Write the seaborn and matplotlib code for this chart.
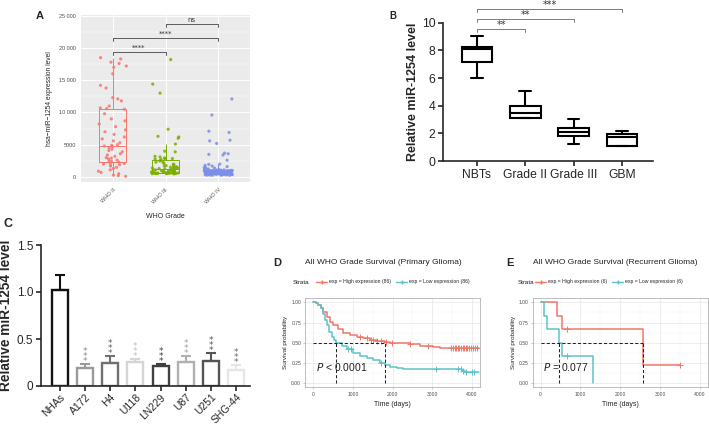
import numpy as np
import pandas as pd
import seaborn as sns
import matplotlib.pyplot as plt
from matplotlib.lines import Line2D
from matplotlib.ticker import MultipleLocator

sns.set_style("white")
plt.rcParams['font.family'] = ['Liberation Sans', 'DejaVu Sans']

W, H = 709, 428

# -------------------------------
# Panel A: hsa-miR-1254 expression by WHO grade
# -------------------------------
grade_labels = ["WHO II", "WHO III", "WHO IV"]
grade_colors = ["#F8766D", "#7CAE00", "#7B8FE6"]
who_ii = [18500, 18300, 17800, 17600, 17200, 17000, 16000, 14200, 13800, 12300,
          12100, 11800, 11000, 10700, 10600, 10500, 9800, 9000, 8700, 8200,
          7800, 7300, 7000, 6600, 6200, 5900, 5600, 5300, 5000, 4900,
          4800, 4700, 4500, 4300, 4100, 3900, 3600, 3400, 3200, 3000,
          2900, 2800, 2600, 2500, 2400, 2300, 2200, 2100, 2000, 1900,
          1800, 1700, 1500, 1300, 1100, 900, 700, 500, 300, 200, 100]
who_iii = [18200, 14400, 13000, 7400, 6300, 6200, 6000, 5100, 4000, 3900,
           3200, 3100, 2950, 2850, 2800, 2760, 2700, 2550, 2480, 2300,
           2250, 2100, 1980, 1900, 1750, 1700, 1620, 1580, 1500, 1470,
           1420, 1390, 1350, 1310, 1260, 1200, 1170, 1100, 1060, 1010,
           980, 940, 910, 880, 850, 830, 790, 760, 730, 700,
           680, 660, 650, 640, 630, 615, 600, 590, 580, 570,
           555, 540, 530, 520, 510, 500, 480]
who_iv = [12100, 9600, 7100, 6900, 5700, 5600, 5200, 3700, 3600, 3500,
          3400, 2600, 2000, 1950, 1800, 1700, 1600, 1500, 1450, 1400,
          1300, 1250, 1200, 1150, 1100, 1090, 1070, 1050, 1040, 1020,
          1000, 990, 980, 960, 950, 940, 920, 910, 900, 890,
          880, 860, 850, 840, 830, 820, 810, 805, 800, 795,
          790, 780, 770, 760, 750, 740, 730, 720, 700, 690,
          680, 660, 650, 640, 620, 610, 600, 580, 560, 550,
          540, 520, 510, 500, 490, 480, 470, 460, 450, 440,
          430, 420, 410, 400, 390, 380, 370, 360, 350, 340,
          330, 320, 310, 300, 290, 280, 260]
a_yticks = [0, 5000, 10000, 15000, 20000, 25000]
a_yticklabels = ["0", "5000", "10 000", "15 000", "20 000", "25 000"]
a_brackets = [(0, 1, 19400, "****"), (0, 2, 21470, "****"), (1, 2, 23680, "ns")]

# -------------------------------
# Panel B: tissue qPCR boxplots (min, q1, median, q3, max)
# -------------------------------
b_groups = ["NBTs", "Grade II", "Grade III", "GBM"]
b_nbts = [6.02, 7.13, 8.08, 8.26, 9.06]
b_grade2 = [3.09, 3.09, 3.45, 3.98, 5.06]
b_grade3 = [1.21, 1.83, 2.12, 2.39, 3.04]
b_gbm = [1.08, 1.08, 1.76, 1.95, 2.15]
b_brackets = [(0, 1, 9.54, "**"), (0, 2, 10.27, "**"), (0, 3, 10.97, "***")]

# -------------------------------
# Panel C: cell lines
# -------------------------------
c_cells = ["NHAs", "A172", "H4", "U118", "LN229", "U87", "U251", "SHG-44"]
c_mean = [1.02, 0.19, 0.25, 0.26, 0.21, 0.26, 0.27, 0.17]
c_err = [0.16, 0.04, 0.07, 0.03, 0.02, 0.06, 0.08, 0.05]
c_edge = ["#111111", "#9a9a9a", "#707070", "#d5d5d5", "#404040", "#b0b0b0", "#555555", "#e6e6e6"]
c_star = ["#111111", "#8a8a8a", "#606060", "#c0c0c0", "#404040", "#a0a0a0", "#555555", "#6a6a6a"]

# -------------------------------
# Panel D: KM, primary glioma
# -------------------------------
d_high_t = [0, 60, 126, 186, 253, 337, 421, 505, 631, 758, 926, 1095, 1263, 1431,
            1600, 1810, 1936, 2189, 2442, 2694, 3030, 3199, 4180]
d_high_s = [1.0, 0.99, 0.97, 0.925, 0.884, 0.82, 0.76, 0.72, 0.667, 0.625, 0.596, 0.576,
            0.555, 0.535, 0.527, 0.514, 0.50, 0.494, 0.481, 0.465, 0.453, 0.441, 0.441]
d_low_t = [0, 60, 126, 186, 236, 295, 337, 404, 463, 530, 575, 715, 842, 1010, 1179,
           1347, 1516, 1684, 1810, 1936, 2105, 2273, 3600, 3760, 3830, 3957, 4180]
d_low_s = [1.0, 0.99, 0.965, 0.925, 0.855, 0.78, 0.72, 0.637, 0.576, 0.535, 0.495, 0.46,
           0.42, 0.37, 0.337, 0.313, 0.288, 0.255, 0.226, 0.205, 0.193, 0.181, 0.173,
           0.152, 0.144, 0.135, 0.135]
d_high_cens = [1180, 1350, 1450, 1520, 1600, 1700, 1830, 1990, 2450, 2900, 3480, 3530,
               3570, 3610, 3650, 3690, 3730, 3770, 3810, 3850, 3890, 3930, 3980, 4030, 4080, 4130]
d_low_cens = [880, 940, 1720, 3100, 3650, 3720, 3790, 3850, 4000, 4050]
d_medians = [575, 1810]

# -------------------------------
# Panel E: KM, recurrent glioma
# -------------------------------
e_high_t = [0, 416, 545, 2560, 2575, 3490]
e_high_s = [1.0, 0.833, 0.667, 0.444, 0.222, 0.222]
e_low_t = [0, 83, 150, 460, 540, 1310]
e_low_s = [1.0, 0.833, 0.667, 0.5, 0.333, 0.0]
e_high_cens = [668, 3490]
e_low_cens = [654]
e_medians = [460, 2560]

km_red = "#F0776A"
km_cyan = "#5EC3C9"
STAR_FONT = ['DejaVu Sans']

fig = plt.figure(figsize=(W / 100, H / 100), dpi=100)


def box(x0, y0, x1, y1):
    return [x0 / W, 1 - y1 / H, (x1 - x0) / W, (y1 - y0) / H]


def panel_label(x, y, s, size=8):
    fig.text(x / W, 1 - y / H, s, fontsize=size, fontweight='bold', ha='center', va='center')


# ---- A
axA = fig.add_axes(box(81, 15, 250, 182))
axA.set_facecolor('#EBEBEB')
dfA = pd.DataFrame({
    'grade': [grade_labels[0]] * len(who_ii) + [grade_labels[1]] * len(who_iii) + [grade_labels[2]] * len(who_iv),
    'value': who_ii + who_iii + who_iv,
})
sns.boxplot(data=dfA, x='grade', y='value', hue='grade', palette=grade_colors, fill=False,
            width=0.52, showfliers=False, linewidth=0.7, capwidths=0, legend=False, ax=axA)
np.random.seed(7)
sns.stripplot(data=dfA, x='grade', y='value', hue='grade', palette=grade_colors, jitter=0.27,
              size=2.3, alpha=0.85, linewidth=0, legend=False, ax=axA)
axA.set_xlim(-0.6, 2.6)
axA.set_ylim(-780, 25110)
axA.set_yticks(a_yticks, a_yticklabels)
axA.yaxis.set_minor_locator(MultipleLocator(2500))
axA.set_axisbelow(True)
axA.grid(which='major', color='white', lw=0.7)
axA.grid(which='minor', axis='y', color='white', lw=0.35)
for s in axA.spines.values():
    s.set_visible(False)
axA.tick_params(axis='both', which='major', length=2, width=0.5, color='#333333',
                labelsize=4, labelcolor='#4D4D4D', pad=1.5)
axA.tick_params(axis='y', which='minor', length=0)
plt.setp(axA.get_xticklabels(), rotation=45, ha='right', rotation_mode='anchor')
axA.set_xlabel('WHO Grade', fontsize=5, labelpad=6)
axA.set_ylabel('hsa\u2212miR\u22121254 expression level', fontsize=4.8, labelpad=4)
for a, b, yv, txt in a_brackets:
    axA.plot([a, a, b, b], [yv - 450, yv, yv, yv - 450], color='#444444', lw=0.6)
    axA.text((a + b) / 2, yv + 200, txt, ha='center', va='bottom', fontsize=5,
             color='#333333', family=STAR_FONT)

# ---- B
axB = fig.add_axes(box(443, 22.7, 653, 161))
dfB = pd.DataFrame({
    'group': [g for g in b_groups for _ in range(5)],
    'level': b_nbts + b_grade2 + b_grade3 + b_gbm,
})
sns.boxplot(data=dfB, x='group', y='level', color='white', linecolor='black', linewidth=1.5,
            width=0.63, whis=(0, 100), capwidths=0.24, ax=axB)
axB.set_xlim(-0.7, 3.64)
axB.set_ylim(0, 10)
axB.set_yticks([0, 2, 4, 6, 8, 10])
sns.despine(ax=axB)
for s in ['left', 'bottom']:
    axB.spines[s].set_linewidth(1.2)
axB.tick_params(axis='both', length=3.5, width=1.2, labelsize=8.7, pad=2, direction='out',
                left=True, bottom=True)
axB.set_xlabel('')
axB.set_ylabel('Relative miR-1254 level', fontsize=9, fontweight='bold', labelpad=2)
for a, b, yv, txt in b_brackets:
    axB.plot([a, a, b, b], [yv - 0.22, yv, yv, yv - 0.22], color='#666666', lw=0.6, clip_on=False)
    axB.text((a + b) / 2, yv - 0.05, txt, ha='center', va='bottom', fontsize=7,
             color='#333333', clip_on=False, family=STAR_FONT)

# ---- C
axC = fig.add_axes(box(41, 245, 250, 386))
dfC = pd.DataFrame({'cell': c_cells, 'level': c_mean})
sns.barplot(data=dfC, x='cell', y='level', hue='cell', palette=c_edge, fill=False,
            linewidth=1.7, width=0.64, errorbar=None, legend=False, ax=axC)
for i, (m, e, col, scol) in enumerate(zip(c_mean, c_err, c_edge, c_star)):
    axC.errorbar(i, m, yerr=[[0], [e]], fmt='none', ecolor=col, elinewidth=1.5,
                 capsize=3.5, capthick=1.5)
    if i > 0:
        axC.text(i, m + e - 0.02, '*\n*\n*', ha='center', va='bottom', fontsize=6.5,
                 linespacing=0.42, color=scol, family=STAR_FONT)
axC.set_xlim(-0.75, 7.55)
axC.set_ylim(0, 1.5)
axC.set_yticks([0, 0.5, 1.0, 1.5], ['0', '0.5', '1.0', '1.5'])
sns.despine(ax=axC)
for s in ['left', 'bottom']:
    axC.spines[s].set_linewidth(1.2)
axC.tick_params(axis='y', length=3.5, width=1.2, labelsize=8.5, pad=2, left=True)
axC.tick_params(axis='x', length=3.5, width=1.2, labelsize=7.5, pad=1, bottom=True)
plt.setp(axC.get_xticklabels(), rotation=45, ha='right', rotation_mode='anchor')
axC.set_xlabel('')
axC.set_ylabel('Relative miR-1254 level', fontsize=9.8, fontweight='bold', labelpad=3)


# ---- D and E: Kaplan-Meier panels
def step_at(ts, ss, t):
    idx = np.searchsorted(ts, t, side='right') - 1
    return list(np.asarray(ss)[idx])


def km_panel(ax, hi_t, hi_s, lo_t, lo_s, hi_c, lo_c, medians, ptext):
    df = pd.DataFrame({
        'time': hi_t + lo_t,
        'surv': hi_s + lo_s,
        'strata': ['High'] * len(hi_t) + ['Low'] * len(lo_t),
    })
    sns.lineplot(data=df, x='time', y='surv', hue='strata', palette=[km_red, km_cyan],
                 drawstyle='steps-post', estimator=None, linewidth=1.1, legend=False, ax=ax)
    sns.scatterplot(x=hi_c, y=step_at(hi_t, hi_s, hi_c), marker='+', color=km_red,
                    s=14, linewidth=0.7, ax=ax)
    sns.scatterplot(x=lo_c, y=step_at(lo_t, lo_s, lo_c), marker='+', color=km_cyan,
                    s=14, linewidth=0.7, ax=ax)
    ax.plot([0, max(medians)], [0.5, 0.5], ls='--', color='#222222', lw=0.75, dashes=(3, 2))
    for m in medians:
        ax.plot([m, m], [0, 0.5], ls='--', color='#222222', lw=0.75, dashes=(3, 2))
    ax.text(60, 0.2, ptext, fontsize=7.5, va='center', ha='left', color='#222222')
    ax.set_xlim(-200, 4200)
    ax.set_ylim(-0.05, 1.05)
    ax.set_xticks([0, 1000, 2000, 3000, 4000])
    ax.set_yticks([0, 0.25, 0.5, 0.75, 1.0], ['0.00', '0.25', '0.50', '0.75', '1.00'])
    ax.xaxis.set_minor_locator(MultipleLocator(500))
    ax.yaxis.set_minor_locator(MultipleLocator(0.125))
    ax.set_axisbelow(True)
    ax.grid(which='major', color='#E6E6E6', lw=0.5)
    ax.grid(which='minor', color='#F3F3F3', lw=0.35)
    for s in ax.spines.values():
        s.set_color('#B3B3B3')
        s.set_linewidth(0.6)
    ax.tick_params(axis='both', which='major', length=1.5, width=0.5, color='#B3B3B3',
                   labelsize=3.6, labelcolor='#4D4D4D', pad=1.5, left=True, bottom=True)
    ax.tick_params(which='minor', length=0)
    ax.set_xlabel('Time (days)', fontsize=5, labelpad=3)
    ax.set_ylabel('Survival probability', fontsize=4.6, labelpad=2)


def km_header(x_title, x_strata, x_legend, title, n_hi, n_lo):
    fig.text(x_title / W, 1 - 263 / H, title, fontsize=6, ha='left', va='center', color='#222222')
    fig.text(x_strata / W, 1 - 282 / H, 'Strata', fontsize=4.5, ha='left', va='center', color='#222222')
    handles = [Line2D([], [], color=km_red, lw=1, marker='+', markersize=3),
               Line2D([], [], color=km_cyan, lw=1, marker='+', markersize=3)]
    labels = [f'exp = High expression ({n_hi})', f'exp = Low expression ({n_lo})']
    fig.legend(handles, labels, loc='center left', bbox_to_anchor=(x_legend / W, 1 - 282 / H),
               ncol=2, frameon=False, fontsize=3.7, handlelength=2.2, handletextpad=0.4,
               columnspacing=0.9, borderpad=0, borderaxespad=0)


axD = fig.add_axes(box(305.4, 298.2, 479.6, 387.4))
km_panel(axD, d_high_t, d_high_s, d_low_t, d_low_s, d_high_cens, d_low_cens, d_medians,
         r'$P$ < 0.0001')
km_header(305, 293, 316, 'All WHO Grade Survival (Primary Glioma)', 86, 86)

axE = fig.add_axes(box(532.7, 298.2, 707.9, 387.4))
km_panel(axE, e_high_t, e_high_s, e_low_t, e_low_s, e_high_cens, e_low_cens, e_medians,
         r'$P$ = 0.077')
km_header(533, 518, 535, 'All WHO Grade Survival (Recurrent Glioma)', 6, 6)

panel_label(40, 16, 'A', 8)
panel_label(393, 16, 'B', 7)
panel_label(8, 224, 'C', 9)
panel_label(277, 263, 'D', 8)
panel_label(510, 263, 'E', 8)

fig.savefig('out.png', dpi=100)
